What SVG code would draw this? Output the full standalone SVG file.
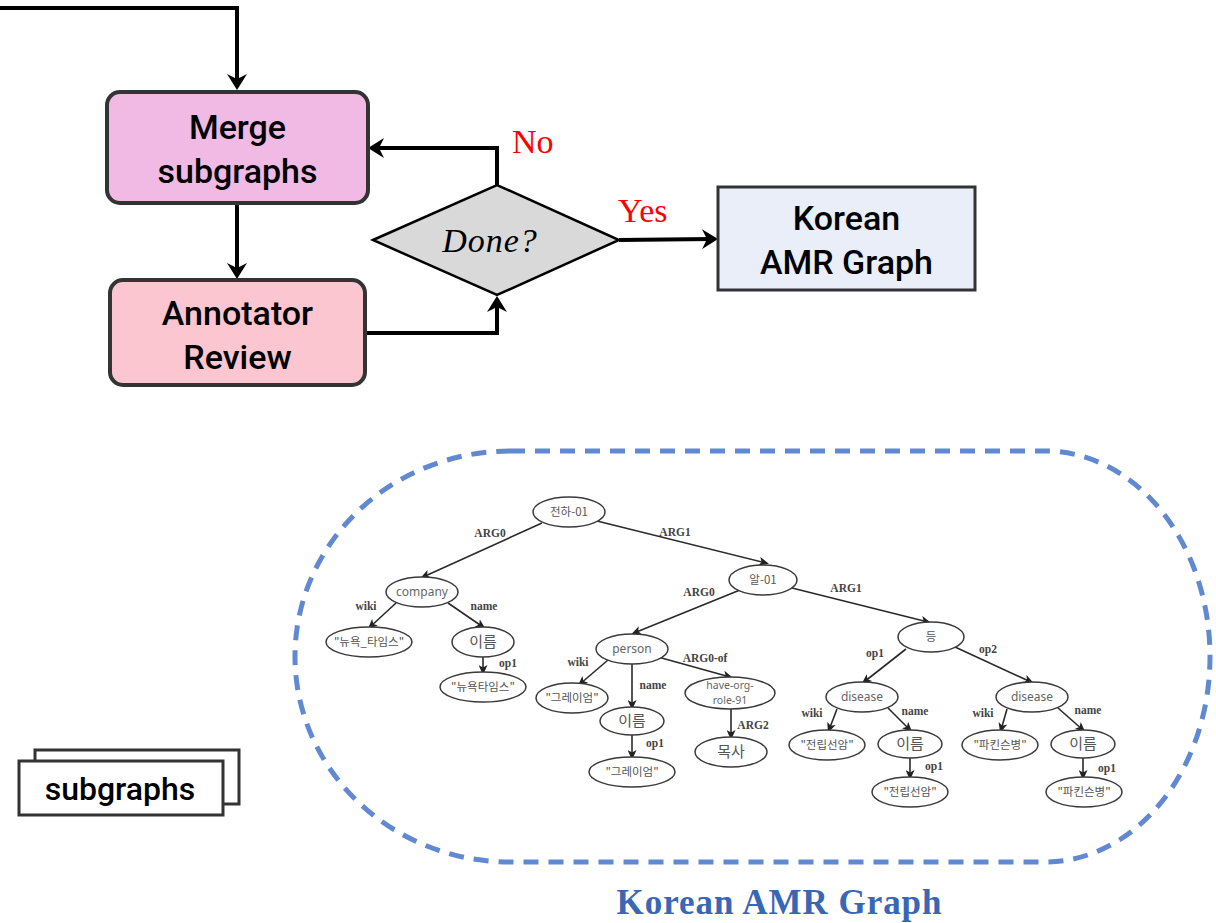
<svg xmlns="http://www.w3.org/2000/svg" width="1216" height="923" viewBox="0 0 1216 923">
<defs>
<marker id="big" markerUnits="userSpaceOnUse" viewBox="0 0 16 20" markerWidth="16" markerHeight="20" refX="10" refY="10" orient="auto">
<path d="M0,0 L16,10 L0,20 L5,10 z" fill="#000"/>
</marker>
<marker id="sm" markerUnits="userSpaceOnUse" viewBox="0 0 10 9" markerWidth="10" markerHeight="9" refX="7" refY="4.5" orient="auto">
<path d="M0,0 L10,4.5 L0,9 L2.5,4.5 z" fill="#222"/>
</marker>
<style>
.box{stroke:#333;stroke-width:4}
.ft{font-family:Roboto,"Liberation Sans",sans-serif;font-weight:500;font-size:34px;fill:#000;text-anchor:middle}
.fl{fill:none;stroke:#000;stroke-width:4}
.red{font-family:"Liberation Serif",serif;font-size:34px;fill:#f00}
.te{fill:none;stroke:#2a2a2a;stroke-width:1.6}
.nd ellipse{fill:#fff;stroke:#3a3a3a;stroke-width:1.5}
.nt{font-family:"Noto Sans","Noto Sans CJK KR",sans-serif;font-size:12px;fill:#666;text-anchor:middle}
.ns{font-family:"Noto Sans",sans-serif;font-size:10.5px;fill:#666;text-anchor:middle}
.nk{font-family:"Noto Sans CJK KR",sans-serif;font-size:11.5px;fill:#555;text-anchor:middle}
.nb{font-family:"Noto Sans CJK KR",sans-serif;font-size:15px;fill:#555;text-anchor:middle}
.el{font-family:"Liberation Serif",serif;font-weight:bold;font-size:11.5px;fill:#444;text-anchor:middle}
</style>
</defs>
<rect width="1216" height="923" fill="#fff"/>

<g id="connectors">
<path class="fl" d="M0,8 H237 V84" marker-end="url(#big)"/>
<path class="fl" d="M237,203 V273" marker-end="url(#big)"/>
<path class="fl" d="M365,333 H497 V302" marker-end="url(#big)"/>
<path class="fl" d="M497,185 V148 H374" marker-end="url(#big)"/>
<path class="fl" d="M619,240 L712,239" marker-end="url(#big)"/>
<g id="tree-edges">
<line class="te" x1="542" y1="523" x2="423" y2="577" marker-end="url(#sm)"/>
<line class="te" x1="597" y1="521" x2="766" y2="563" marker-end="url(#sm)"/>
<line class="te" x1="740" y1="590" x2="634" y2="633" marker-end="url(#sm)"/>
<line class="te" x1="792" y1="588" x2="928" y2="622" marker-end="url(#sm)"/>
<line class="te" x1="396" y1="603" x2="370" y2="627" marker-end="url(#sm)"/>
<line class="te" x1="448" y1="603" x2="483" y2="627" marker-end="url(#sm)"/>
<line class="te" x1="483" y1="657" x2="483" y2="672" marker-end="url(#sm)"/>
<line class="te" x1="608" y1="660" x2="580" y2="684" marker-end="url(#sm)"/>
<line class="te" x1="632" y1="664" x2="632" y2="707" marker-end="url(#sm)"/>
<line class="te" x1="658" y1="657" x2="730" y2="677" marker-end="url(#sm)"/>
<line class="te" x1="632" y1="735" x2="632" y2="757" marker-end="url(#sm)"/>
<line class="te" x1="731" y1="709" x2="731" y2="737" marker-end="url(#sm)"/>
<line class="te" x1="906" y1="649" x2="864" y2="682" marker-end="url(#sm)"/>
<line class="te" x1="955" y1="647" x2="1031" y2="682" marker-end="url(#sm)"/>
<line class="te" x1="837" y1="709" x2="829" y2="730" marker-end="url(#sm)"/>
<line class="te" x1="888" y1="708" x2="910" y2="730" marker-end="url(#sm)"/>
<line class="te" x1="910" y1="758" x2="910" y2="777" marker-end="url(#sm)"/>
<line class="te" x1="1007" y1="709" x2="1001" y2="730" marker-end="url(#sm)"/>
<line class="te" x1="1058" y1="708" x2="1083" y2="730" marker-end="url(#sm)"/>
<line class="te" x1="1083" y1="758" x2="1083" y2="777" marker-end="url(#sm)"/>
</g>
<g id="edge-labels">
<text class="el" x="490" y="537">ARG0</text>
<text class="el" x="675" y="536">ARG1</text>
<text class="el" x="699" y="596">ARG0</text>
<text class="el" x="846" y="592">ARG1</text>
<text class="el" x="366" y="610">wiki</text>
<text class="el" x="484" y="610">name</text>
<text class="el" x="508" y="667">op1</text>
<text class="el" x="578" y="666">wiki</text>
<text class="el" x="653" y="689">name</text>
<text class="el" x="705" y="662">ARG0-of</text>
<text class="el" x="655" y="747">op1</text>
<text class="el" x="753" y="729">ARG2</text>
<text class="el" x="875" y="657">op1</text>
<text class="el" x="988" y="653">op2</text>
<text class="el" x="812" y="717">wiki</text>
<text class="el" x="915" y="715">name</text>
<text class="el" x="934" y="770">op1</text>
<text class="el" x="983" y="717">wiki</text>
<text class="el" x="1088" y="714">name</text>
<text class="el" x="1107" y="772">op1</text>
</g>
</g>

<g id="merge">
<rect class="box" x="107" y="92" width="261" height="111" rx="13" fill="#F0BAE5"/>
<text class="ft" x="237.5" y="139">Merge</text>
<text class="ft" x="237.5" y="183">subgraphs</text>
</g>
<g id="annotator">
<rect class="box" x="110" y="280" width="255" height="105" rx="13" fill="#FBC6CF"/>
<text class="ft" x="237.5" y="325">Annotator</text>
<text class="ft" x="237.5" y="369">Review</text>
</g>
<g id="done">
<polygon points="373,240 497,185 619,240 497,295" fill="#D9D9D9" stroke="#000" stroke-width="2.5"/>
<text x="490" y="252" font-family="'Liberation Serif',serif" font-style="italic" font-size="34" letter-spacing="1" text-anchor="middle">Done?</text>
</g>
<g id="korean-box">
<rect x="718" y="187" width="257" height="103" fill="#E9EEF8" stroke="#333" stroke-width="3"/>
<text class="ft" x="846.5" y="230">Korean</text>
<text class="ft" x="846.5" y="274">AMR Graph</text>
</g>
<text class="red" x="512" y="153">No</text>
<text class="red" x="618" y="222">Yes</text>

<g id="subgraphs">
<rect x="35" y="750" width="204" height="54" fill="#fff" stroke="#333" stroke-width="3"/>
<rect x="19" y="761" width="204" height="54" fill="#fff" stroke="#333" stroke-width="3"/>
<text x="120" y="800" font-family="Roboto,'Liberation Sans',sans-serif" font-weight="500" font-size="32" text-anchor="middle">subgraphs</text>
</g>

<g id="amr-frame">
<path d="M510,451 H1045 A165,205.5 0 0 1 1045,862 H510 A215,205.5 0 0 1 510,451 Z" fill="none" stroke="#6189D2" stroke-width="5" stroke-dasharray="15 10"/>
<text x="779" y="914" font-family="'Liberation Serif',serif" font-weight="bold" font-size="35" fill="#3A66B6" text-anchor="middle" textLength="325" lengthAdjust="spacing">Korean AMR Graph</text>
</g>

<g id="tree-nodes" class="nd">
<g id="n1"><ellipse cx="569" cy="512" rx="36" ry="15"/><text class="nk" x="569" y="516">전하-01</text></g>
<g id="n2"><ellipse cx="422" cy="592" rx="36" ry="15"/><text class="nt" x="422" y="596">company</text></g>
<g id="n3"><ellipse cx="369" cy="642" rx="43" ry="15"/><text class="nk" x="369" y="646">"뉴욕_타임스"</text></g>
<g id="n4"><ellipse cx="483" cy="642" rx="31" ry="15"/><text class="nb" x="483" y="647">이름</text></g>
<g id="n5"><ellipse cx="483" cy="687" rx="43" ry="15"/><text class="nk" x="483" y="691">"뉴욕타임스"</text></g>
<g id="n6"><ellipse cx="763" cy="580" rx="34" ry="15"/><text class="nk" x="763" y="584">알-01</text></g>
<g id="n7"><ellipse cx="632" cy="649" rx="36" ry="15"/><text class="nt" x="632" y="653">person</text></g>
<g id="n8"><ellipse cx="572" cy="698" rx="36" ry="15"/><text class="nk" x="572" y="702">"그레이엄"</text></g>
<g id="n9"><ellipse cx="632" cy="721" rx="32" ry="14"/><text class="nb" x="632" y="726">이름</text></g>
<g id="n10"><ellipse cx="632" cy="772" rx="43" ry="15"/><text class="nk" x="632" y="776">"그레이엄"</text></g>
<g id="n11"><ellipse cx="730" cy="693" rx="45" ry="16"/><text class="ns" x="730" y="689">have-org-</text><text class="ns" x="730" y="704">role-91</text></g>
<g id="n12"><ellipse cx="731" cy="752" rx="36" ry="15"/><text class="nb" x="731" y="757" font-size="13">목사</text></g>
<g id="n13"><ellipse cx="931" cy="637" rx="33" ry="15"/><text class="nk" x="931" y="641">등</text></g>
<g id="n14"><ellipse cx="862" cy="697" rx="36" ry="15"/><text class="nt" x="862" y="701">disease</text></g>
<g id="n15"><ellipse cx="827" cy="745" rx="38" ry="15"/><text class="nk" x="827" y="749">"전립선암"</text></g>
<g id="n16"><ellipse cx="910" cy="744" rx="32" ry="14"/><text class="nb" x="910" y="749">이름</text></g>
<g id="n17"><ellipse cx="910" cy="792" rx="38" ry="15"/><text class="nk" x="910" y="796">"전립선암"</text></g>
<g id="n18"><ellipse cx="1032" cy="697" rx="36" ry="15"/><text class="nt" x="1032" y="701">disease</text></g>
<g id="n19"><ellipse cx="1000" cy="745" rx="38" ry="15"/><text class="nk" x="1000" y="749">"파킨슨병"</text></g>
<g id="n20"><ellipse cx="1083" cy="744" rx="32" ry="14"/><text class="nb" x="1083" y="749">이름</text></g>
<g id="n21"><ellipse cx="1084" cy="792" rx="38" ry="15"/><text class="nk" x="1084" y="796">"파킨슨병"</text></g>
</g>
</svg>
